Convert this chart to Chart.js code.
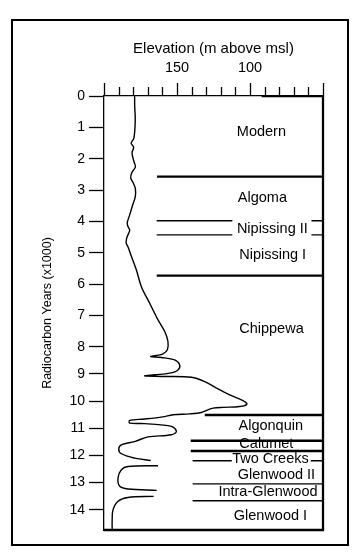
<!DOCTYPE html>
<html>
<head>
<meta charset="utf-8">
<title>Lake level history</title>
<script src="https://cdn.jsdelivr.net/npm/chart.js@4.4.1/dist/chart.umd.min.js"></script>
<style>
  html, body { margin: 0; padding: 0; background: #fff; }
  #chart { display: block; }
</style>
</head>
<body>
<canvas id="chart" width="364" height="560"></canvas>
<script>
// lake level curve: elevation (m above msl) against radiocarbon years (x1000)
// null splits the curve into its separate pieces
const curveElevation = [
  179.0, 179.0, 178.6, 179.5, 181.4, 179.7, 180.8, 179.5, 178.5, 181.0,
  181.7, 180.0, 178.5, 178.6, 180.3, 182.4, 184.1, 183.4, 182.4, 183.1,
  184.5, 184.8, 183.6, 181.2, 177.8, 174.4, 168.7, 163.0, 158.4, 156.2,
  156.6, 159.6, 164.1, 168.0, 160.7, 151.6, 148.2, 149.3, 155.0, 165.3,
  172.1, 160.7, 140.1, 131.0, 123.0, 113.9, 104.8, 102.1, 107.1, 118.5,
  125.3, 128.8, 133.3, 141.3, 152.7, 159.8, 172.1, 182.4, 182.4, 172.1,
  153.8, 150.4, 153.8, 169.9, 179.0, 188.1, 189.9, 188.1, 179.0, 168.0,
  null,
  163.0, 183.6, 188.1, 190.4, 189.2, 183.6, 163.9,
  null,
  166.0, 183.6, 190.4, 193.8, 194.4, 194.4
];
const curveYears = [
  0, 0.29, 0.77, 1.34, 1.51, 1.63, 1.82, 2.09, 2.26, 2.45,
  2.61, 2.77, 2.96, 3.22, 3.47, 3.79, 4.05, 4.18, 4.27, 4.38,
  4.54, 4.69, 4.81, 5.12, 5.55, 6.08, 6.61, 7.14, 7.51, 7.83,
  8.11, 8.26, 8.32, 8.36, 8.39, 8.48, 8.66, 8.85, 8.97, 9.03,
  9.07, 9.09, 9.12, 9.28, 9.52, 9.77, 9.98, 10.11, 10.20, 10.23,
  10.26, 10.32, 10.42, 10.47, 10.50, 10.58, 10.66, 10.71, 10.81, 10.83,
  10.93, 11.12, 11.24, 11.32, 11.49, 11.61, 11.77, 11.94, 12.10, 12.19,
  null,
  12.38, 12.41, 12.53, 12.83, 13.14, 13.24, 13.29,
  null,
  13.51, 13.55, 13.69, 14.00, 14.37, 14.74
];

// stage boundaries (year, elevation where the line starts, where it ends)
const heavyYears = [0, 2.57, 5.73, 10.51, 11.46, 11.84];
const heavyFrom = [92, 163.7, 163.9, 131.0, 140.6, 140.6];
const heavyTo = [50, 50, 50, 50, 50, 50];
const lightYears = [3.98, 3.98, 4.43, 4.43, 12.20, 12.20, 13.05, 13.67];
const lightFrom = [163.9, 57.9, 163.9, 57.9, 139.3, 58.4, 139.3, 139.3];
const lightTo = [112.1, 50, 112.1, 50, 112.5, 50, 50, 50];

// stage names and where they sit
const stageNames = ['Modern', 'Algoma', 'Nipissing II', 'Nipissing I', 'Chippewa', 'Algonquin',
  'Calumet', 'Two Creeks', 'Glenwood II', 'Intra-Glenwood', 'Glenwood I'];
const stageYears = [1.15, 3.24, 4.24, 5.07, 7.43, 10.93, 11.58, 12.13, 12.71, 13.36, 14.25];
const stageElevation = [92.2, 91.5, 84.7, 84.5, 85.3, 85.8, 88.8, 86.0, 81.9, 87.7, 86.0];

// axis ticks
const elevationLabels = [150, 100];
const elevationMin = 50;
const elevationMax = 200;
const yearMin = 0;
const yearMax = 14.75;

const FONT = '"Liberation Sans", Arial, Helvetica, sans-serif';

// the years axis of the drawing is not evenly spaced: 0-8 is stretched, 8-14 squeezed
const yearKnots = [0, 8, 14.75];
const yearFractions = [0, 0.578, 1];

function yearToFraction(v) {
  for (let i = 1; i < yearKnots.length; i++) {
    if (v <= yearKnots[i] || i === yearKnots.length - 1) {
      const t = (v - yearKnots[i - 1]) / (yearKnots[i] - yearKnots[i - 1]);
      return yearFractions[i - 1] + t * (yearFractions[i] - yearFractions[i - 1]);
    }
  }
  return 0;
}
function fractionToYear(f) {
  for (let i = 1; i < yearFractions.length; i++) {
    if (f <= yearFractions[i] || i === yearFractions.length - 1) {
      const t = (f - yearFractions[i - 1]) / (yearFractions[i] - yearFractions[i - 1]);
      return yearKnots[i - 1] + t * (yearKnots[i] - yearKnots[i - 1]);
    }
  }
  return 0;
}

const LinearScale = Chart.LinearScale || Chart.registry.getScale('linear');
class BrokenYearScale extends LinearScale {
  getPixelForValue(value) {
    if (value === null || value === undefined || isNaN(value)) return NaN;
    return this.getPixelForDecimal(yearToFraction(value));
  }
  getValueForPixel(pixel) {
    return fractionToYear(this.getDecimalForPixel(pixel));
  }
}
BrokenYearScale.id = 'brokenYear';
BrokenYearScale.defaults = LinearScale.defaults;
Chart.register(BrokenYearScale);

function segments(years, from, to) {
  const pts = [];
  years.forEach((yr, i) => {
    pts.push({ x: from[i], y: yr }, { x: to[i], y: yr }, { x: null, y: null });
  });
  return pts;
}

const framePlugin = {
  id: 'frame',
  beforeDraw(chart) {
    const ctx = chart.ctx;
    ctx.save();
    ctx.strokeStyle = '#000';
    ctx.lineWidth = 2;
    ctx.strokeRect(12, 20, 336, 525);
    ctx.restore();
  },
  afterDraw(chart) {
    const { ctx, chartArea: a, scales: { x } } = chart;
    ctx.save();
    ctx.strokeStyle = '#000';
    // short ticks on the elevation axis
    ctx.lineWidth = 1.3;
    ctx.beginPath();
    x.ticks.forEach(t => {
      if (t.value % 50 === 0) return;
      const px = Math.round(x.getPixelForValue(t.value)) + 0.5;
      ctx.moveTo(px, a.top);
      ctx.lineTo(px, a.top - 9);
    });
    ctx.stroke();
    // heavier right and bottom edge
    ctx.lineWidth = 2.3;
    ctx.beginPath();
    ctx.moveTo(a.right, a.top - 1);
    ctx.lineTo(a.right, a.bottom);
    ctx.lineTo(a.left, a.bottom);
    ctx.stroke();
    ctx.restore();
  }
};

const stageLabelPlugin = {
  id: 'stageLabels',
  afterDatasetsDraw(chart) {
    const { ctx, scales: { x, y } } = chart;
    ctx.save();
    ctx.font = '14.5px ' + FONT;
    ctx.fillStyle = '#000';
    ctx.textAlign = 'center';
    ctx.textBaseline = 'middle';
    stageNames.forEach((name, i) => {
      ctx.fillText(name, x.getPixelForValue(stageElevation[i]), y.getPixelForValue(stageYears[i]));
    });
    ctx.restore();
  }
};

new Chart(document.getElementById('chart'), {
  type: 'scatter',
  data: {
    datasets: [
      {
        label: 'Lake level',
        data: curveElevation.map((e, i) => ({ x: e, y: curveYears[i] })),
        showLine: true,
        borderColor: '#000',
        borderWidth: 1.4,
        tension: 0.35,
        pointRadius: 0,
        spanGaps: false
      },
      {
        label: 'Major boundaries',
        data: segments(heavyYears, heavyFrom, heavyTo),
        showLine: true,
        borderColor: '#000',
        borderWidth: 2.4,
        pointRadius: 0,
        spanGaps: false
      },
      {
        label: 'Minor boundaries',
        data: segments(lightYears, lightFrom, lightTo),
        showLine: true,
        borderColor: '#000',
        borderWidth: 1.4,
        pointRadius: 0,
        spanGaps: false
      }
    ]
  },
  options: {
    responsive: false,
    animation: false,
    devicePixelRatio: 1,
    layout: { padding: { left: 0, top: 0, right: 41, bottom: 30 } },
    plugins: {
      legend: { display: false },
      tooltip: { enabled: false }
    },
    scales: {
      x: {
        type: 'linear',
        position: 'top',
        reverse: true,
        min: elevationMin,
        max: elevationMax,
        afterFit: s => { s.height = 96; },
        ticks: {
          stepSize: 10,
          autoSkip: false,
          maxRotation: 0,
          padding: 6,
          color: '#000',
          font: { family: FONT, size: 14.5 },
          callback: v => (elevationLabels.includes(v) ? String(v) : '')
        },
        grid: {
          drawOnChartArea: false,
          drawTicks: true,
          tickLength: 13,
          tickWidth: 1.3,
          tickColor: c => (c.tick && c.tick.value % 50 === 0 ? '#000' : 'rgba(0,0,0,0)')
        },
        border: { color: '#000', width: 1.3 },
        title: {
          display: true,
          text: 'Elevation (m above msl)',
          color: '#000',
          font: { family: FONT, size: 15 },
          padding: { top: 40, bottom: 0 }
        }
      },
      y: {
        type: 'brokenYear',
        position: 'left',
        reverse: true,
        min: yearMin,
        max: yearMax,
        afterFit: s => { s.width = 104; },
        ticks: {
          stepSize: 1,
          includeBounds: false,
          autoSkip: false,
          padding: 4,
          color: '#000',
          font: { family: FONT, size: 14 }
        },
        grid: {
          drawOnChartArea: false,
          drawTicks: true,
          tickLength: 15,
          tickWidth: 1.3,
          tickColor: '#000'
        },
        border: { color: '#000', width: 1.3 },
        title: {
          display: true,
          text: 'Radiocarbon Years (x1000)',
          color: '#000',
          font: { family: FONT, size: 12.5 },
          padding: { top: 40, bottom: 0 }
        }
      }
    }
  },
  plugins: [framePlugin, stageLabelPlugin]
});
</script>
</body>
</html>
